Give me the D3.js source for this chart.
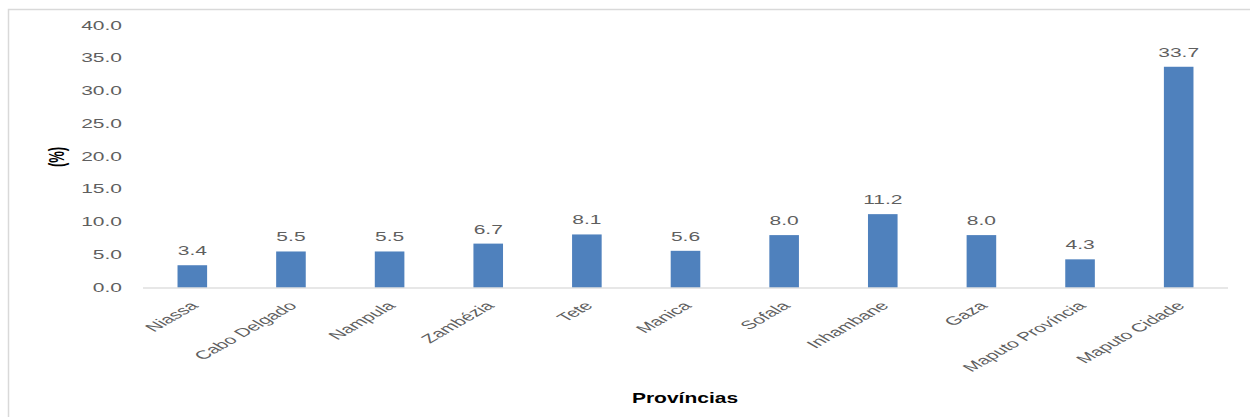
<!DOCTYPE html>
<html>
<head>
<meta charset="utf-8">
<script src="https://cdn.jsdelivr.net/npm/d3@7"></script>
<style>
  body { margin: 0; background: #fff; }
  text { font-family: "Liberation Sans", Arial, sans-serif; }
</style>
</head>
<body>
<div id="chart"></div>
<script>
// data
var provinces = ["Niassa", "Cabo Delgado", "Nampula", "Zambézia", "Tete", "Manica",
                 "Sofala", "Inhambane", "Gaza", "Maputo Província", "Maputo Cidade"];
var values = [3.4, 5.5, 5.5, 6.7, 8.1, 5.6, 8.0, 11.2, 8.0, 4.3, 33.7];
var yTicks = [0, 5, 10, 15, 20, 25, 30, 35, 40];

var W = 1250, H = 417;
var stretch = 1.75;   // the picture is wide, text looks stretched

var svg = d3.select("#chart")
  .append("svg")
    .attr("width", W)
    .attr("height", H);

// chart frame
svg.append("path")
  .attr("d", "M8.5," + H + " L8.5,9.5 L" + W + ",9.5")
  .attr("fill", "none")
  .attr("stroke", "#d9d9d9")
  .attr("stroke-width", 1.5);

var x = d3.scaleBand()
  .domain(provinces)
  .range([143, 1228])
  .paddingInner(0.7)
  .paddingOuter(0.35);

var y = d3.scaleLinear()
  .domain([0, 40])
  .range([287.5, 25.5]);

// y tick labels (no axis line)
svg.append("g")
  .selectAll("text")
  .data(yTicks)
  .enter().append("text")
    .attr("transform", function(d) { return "translate(122," + y(d) + ") scale(" + stretch + ",1)"; })
    .attr("text-anchor", "end")
    .attr("dy", "0.35em")
    .attr("font-size", 12)
    .attr("fill", "#5f5f5f")
    .text(function(d) { return d3.format(".1f")(d); });

// bars
svg.append("g")
  .selectAll("rect")
  .data(values)
  .enter().append("rect")
    .attr("x", function(d, i) { return x(provinces[i]); })
    .attr("y", function(d) { return y(d); })
    .attr("width", x.bandwidth())
    .attr("height", function(d) { return y(0) - y(d); })
    .attr("fill", "#4f81bd");

// baseline
svg.append("line")
  .attr("x1", 143).attr("x2", 1228)
  .attr("y1", y(0) + 0.5).attr("y2", y(0) + 0.5)
  .attr("stroke", "#d0d0d0")
  .attr("stroke-width", 1.2);

// value labels
svg.append("g")
  .selectAll("text")
  .data(values)
  .enter().append("text")
    .attr("transform", function(d, i) {
      return "translate(" + (x(provinces[i]) + x.bandwidth() / 2) + "," + (y(d) - 10) + ") scale(" + stretch + ",1)";
    })
    .attr("text-anchor", "middle")
    .attr("font-size", 12)
    .attr("fill", "#5f5f5f")
    .text(function(d) { return d3.format(".1f")(d); });

// category labels, rotated
svg.append("g")
  .selectAll("text")
  .data(provinces)
  .enter().append("text")
    .attr("transform", function(d) {
      return "translate(" + (x(d) + x.bandwidth() / 2 + 7) + "," + (y(0) + 19) + ") scale(" + stretch + ",1) rotate(-45)";
    })
    .attr("text-anchor", "end")
    .attr("font-size", 12)
    .attr("fill", "#5f5f5f")
    .text(function(d) { return d; });

// axis titles
svg.append("text")
  .attr("transform", "translate(64,157) scale(" + stretch + ",1) rotate(-90)")
  .attr("text-anchor", "middle")
  .attr("font-size", 13)
  .attr("font-weight", "bold")
  .attr("fill", "#000")
  .text("(%)");

svg.append("text")
  .attr("transform", "translate(685,403) scale(1.5,1)")
  .attr("text-anchor", "middle")
  .attr("font-size", 14)
  .attr("font-weight", "bold")
  .attr("fill", "#000")
  .text("Províncias");
</script>
</body>
</html>
